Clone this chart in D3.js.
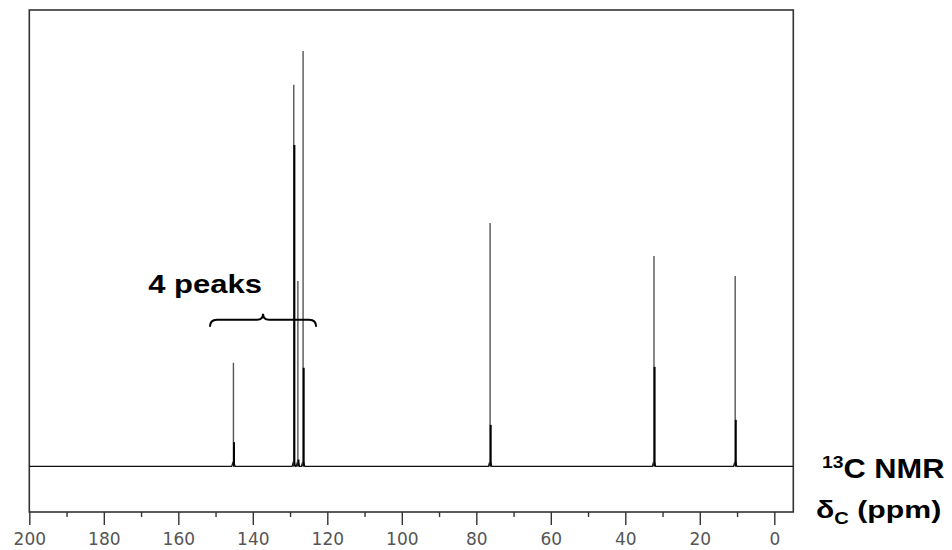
<!DOCTYPE html>
<html>
<head>
<meta charset="utf-8">
<script src="https://cdn.jsdelivr.net/npm/d3@7"></script>
<style>
  html, body { margin: 0; padding: 0; background: #fff; }
  svg { display: block; }
</style>
</head>
<body>
<svg id="chart" width="952" height="550"></svg>
<script>
// ---- data ----
const peakShifts   = [145.2, 129.0, 127.9, 126.5, 76.3, 32.3, 10.5];   // ppm
const peakHeights  = [22.7, 83.6, 40.6, 91.0, 53.3, 46.1, 41.7];       // intensity (0-100)
const peakInner    = [5.3, 70.4, 1.5, 21.6, 9.1, 21.8, 10.2];          // doubled (dark) part
const majorTicks   = [200, 180, 160, 140, 120, 100, 80, 60, 40, 20, 0];
const minorTicks   = [190, 170, 150, 130, 110, 90, 70, 50, 30, 10];
const braceRange   = [151.5, 123.0];   // ppm span of the "4 peaks" brace
const braceLevel   = 32.1;             // intensity level of the brace
const annotation   = "4 peaks";

const svg = d3.select("#chart");
const x = d3.scaleLinear().domain([200, -5.1]).range([29.3, 793.3]);
const y = d3.scaleLinear().domain([-10, 100]).range([512, 10]);

// frame
svg.append("rect")
  .attr("x", x(200)).attr("y", y(100))
  .attr("width", x(-5.1) - x(200)).attr("height", y(-10) - y(100))
  .attr("fill", "none").attr("stroke", "#333").attr("stroke-width", 1.6);

// axis (bottom)
const axis = d3.axisBottom(x)
  .tickValues(majorTicks).tickSize(13).tickPadding(4)
  .tickFormat(d3.format("d"));
const gA = svg.append("g").attr("transform", `translate(0,${y(-10)})`).call(axis);
gA.select(".domain").remove();
gA.selectAll(".tick line").attr("stroke", "#333").attr("stroke-width", 1.4);
gA.selectAll(".tick text")
  .attr("fill", "#555").attr("font-family", "DejaVu Sans, Verdana, sans-serif")
  .attr("font-size", 17).attr("dy", "0.95em");

const gm = d3.axisBottom(x).tickValues(minorTicks).tickSize(5).tickFormat("");
const gM = svg.append("g").attr("transform", `translate(0,${y(-10)})`).call(gm);
gM.select(".domain").remove();
gM.selectAll(".tick line").attr("stroke", "#333").attr("stroke-width", 1.4);

// spectrum baseline with small bumps at each peak foot
const bw = 0.45, bh = 0.7;
const pts = [[200, 0]];
peakShifts.slice().sort((a, b) => b - a).forEach(s => {
  pts.push([s + bw, 0], [s + bw * 0.5, bh], [s, 0.2], [s - bw * 0.5, bh], [s - bw, 0]);
});
pts.push([-5.1, 0]);
svg.append("path")
  .attr("d", d3.line().x(d => x(d[0])).y(d => y(d[1]))(pts))
  .attr("fill", "none").attr("stroke", "#111").attr("stroke-width", 1.2);

// peaks
const peaks = peakShifts.map((s, i) => ({ s, h: peakHeights[i], inner: peakInner[i] }));
svg.selectAll("line.peak").data(peaks).enter().append("line")
  .attr("class", "peak")
  .attr("x1", d => x(d.s)).attr("x2", d => x(d.s))
  .attr("y1", y(0)).attr("y2", d => y(d.h))
  .attr("stroke", "#555").attr("stroke-width", 1.4);
svg.selectAll("line.inner").data(peaks).enter().append("line")
  .attr("class", "inner")
  .attr("x1", d => x(d.s) + 0.6).attr("x2", d => x(d.s) + 0.6)
  .attr("y1", y(0)).attr("y2", d => y(d.inner))
  .attr("stroke", "#000").attr("stroke-width", 2);

// brace
const bx1 = x(braceRange[0]), bx2 = x(braceRange[1]), by = y(braceLevel);
const bm = (bx1 + bx2) / 2;
const bp = d3.path();
bp.moveTo(bx1, by + 7);
bp.quadraticCurveTo(bx1, by, bx1 + 7, by);
bp.lineTo(bm - 6, by);
bp.quadraticCurveTo(bm, by, bm, by - 6);
bp.quadraticCurveTo(bm, by, bm + 6, by);
bp.lineTo(bx2 - 7, by);
bp.quadraticCurveTo(bx2, by, bx2, by + 7);
svg.append("path").attr("d", bp.toString())
  .attr("fill", "none").attr("stroke", "#000").attr("stroke-width", 2);

const annX = x(152.8), annY = y(38.0);
svg.append("text")
  .attr("transform", `translate(${annX},${annY}) scale(1.17,1)`)
  .attr("text-anchor", "middle")
  .attr("font-family", "Liberation Sans, Arial, sans-serif")
  .attr("font-weight", "bold").attr("font-size", 26.5)
  .text(annotation);

// right-side labels
const t1 = svg.append("text")
  .attr("transform", "translate(822,478) scale(1.14,1)")
  .attr("font-family", "Liberation Sans, Arial, sans-serif")
  .attr("font-weight", "bold").attr("font-size", 27);
t1.append("tspan").attr("font-size", 17).attr("dy", -10).text("13");
t1.append("tspan").attr("dy", 10).text("C NMR");

const t2 = svg.append("text")
  .attr("transform", "translate(816,518) scale(1.26,1)")
  .attr("font-family", "Liberation Sans, Arial, sans-serif")
  .attr("font-weight", "bold").attr("font-size", 24);
t2.append("tspan").text("δ");
t2.append("tspan").attr("font-size", 16).attr("dy", 6).text("C");
t2.append("tspan").attr("dy", -6).text(" (ppm)");
</script>
</body>
</html>
